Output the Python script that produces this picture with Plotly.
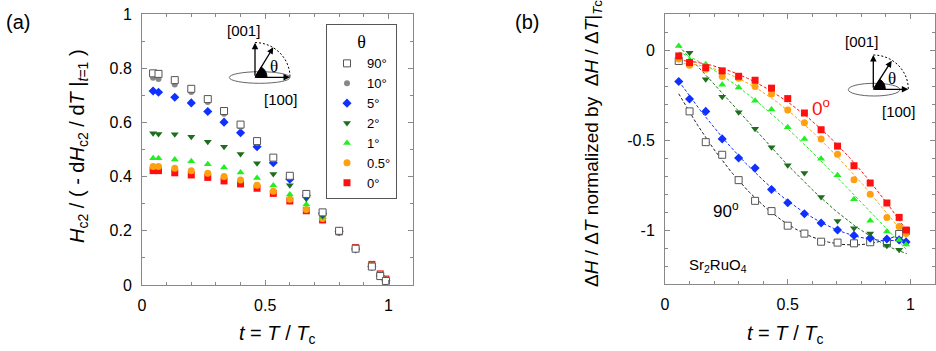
import numpy as np
import plotly.graph_objects as go

W, H = 936, 351

# ---------------- Panel (a) data ----------------
tA = [0.045, 0.067, 0.133, 0.2, 0.267, 0.333, 0.4, 0.467, 0.533, 0.6, 0.667, 0.733, 0.8, 0.867, 0.933, 0.967, 0.99]
a90 = [0.781, 0.779, 0.756, 0.724, 0.686, 0.642, 0.592, 0.531, 0.470, 0.403, 0.336, 0.268, 0.200, 0.134, 0.068, 0.033, 0.015]
a10 = [0.765, 0.760, 0.740, 0.712, 0.675, 0.632, 0.584, 0.525, 0.464, 0.398, 0.332, 0.265, 0.198, 0.133, 0.068, 0.034, 0.016]
a5 = [0.716, 0.711, 0.693, 0.672, 0.640, 0.601, 0.562, 0.510, 0.451, 0.390, 0.330, 0.265, 0.198, 0.133, 0.068, 0.034, 0.016]
a2 = [0.560, 0.557, 0.556, 0.547, 0.529, 0.510, 0.483, 0.449, 0.410, 0.368, 0.318, 0.255, 0.197, 0.134, 0.070, 0.036, 0.017]
a1 = [0.468, 0.468, 0.463, 0.457, 0.446, 0.434, 0.415, 0.395, 0.367, 0.334, 0.297, 0.252, 0.196, 0.135, 0.072, 0.037, 0.018]
a05 = [0.437, 0.437, 0.431, 0.422, 0.412, 0.400, 0.387, 0.368, 0.346, 0.316, 0.279, 0.245, 0.194, 0.136, 0.073, 0.039, 0.020]
a0 = [0.422, 0.422, 0.414, 0.406, 0.397, 0.384, 0.373, 0.357, 0.338, 0.310, 0.274, 0.240, 0.196, 0.138, 0.076, 0.041, 0.022]

# ---------------- Panel (b) data ----------------
tB = [0.056, 0.1, 0.166, 0.233, 0.3, 0.367, 0.434, 0.5, 0.568, 0.636, 0.703, 0.77, 0.836, 0.904, 0.954, 0.982]
tB2 = [0.1, 0.166, 0.233, 0.3, 0.367, 0.434, 0.5, 0.568, 0.636, 0.703, 0.77, 0.836, 0.904, 0.954]
b90 = [-0.061, -0.341, -0.512, -0.582, -0.723, -0.838, -0.895, -0.976, -1.02, -1.065, -1.07, -1.074, -1.068, -1.074, -1.022, -1.006]
b5 = [-0.175, -0.272, -0.341, -0.494, -0.600, -0.656, -0.775, -0.849, -0.910, -0.961, -1.0, -1.03, -1.045, -1.05, -1.055, -1.066]
b2 = [-0.015, -0.162, -0.26, -0.346, -0.438, -0.54, -0.64, -0.683, -0.816, -0.95, -0.99, -1.02, -1.088, -1.11]
b1 = [0.022, -0.057, -0.079, -0.193, -0.208, -0.282, -0.331, -0.429, -0.494, -0.604, -0.696, -0.829, -0.948, -1.009, -1.055, -1.08]
b05 = [-0.05, -0.085, -0.107, -0.147, -0.157, -0.203, -0.245, -0.333, -0.404, -0.494, -0.579, -0.721, -0.802, -0.931, -0.98, -1.02]
b0 = [-0.033, -0.07, -0.098, -0.116, -0.146, -0.168, -0.212, -0.27, -0.35, -0.443, -0.534, -0.643, -0.739, -0.85, -0.93, -1.0]

legend_names = ["0°", "0.5°", "1°", "2°", "5°", "10°", "90°"]

RED = "#ff1010"
ORANGE = "#ffa010"
LGREEN = "#22ee22"
DGREEN = "#1e6e1e"
BLUE = "#1030ff"
GRAY = "#888888"
SQEDGE = "#555555"

FONT = "Liberation Sans, Arial, sans-serif"
SERIF = "Liberation Serif, Times New Roman, serif"

fig = go.Figure()

# panel (a) traces (drawn bottom to top)
styleA = [
    (a0, "square", RED, 7, None),
    (a05, "circle", ORANGE, 7, None),
    (a1, "triangle-up", LGREEN, 7, None),
    (a2, "triangle-down", DGREEN, 7, None),
    (a5, "diamond", BLUE, 7, None),
    (a10, "circle", GRAY, 6, None),
    (a90, "square", "white", 7, SQEDGE),
]
for (vals, sym, col, sz, edge), name in zip(styleA, legend_names):
    mk = dict(symbol=sym, color=col, size=sz)
    if edge:
        mk["line"] = dict(color=edge, width=1)
    else:
        mk["line"] = dict(width=0)
    fig.add_trace(go.Scatter(x=tA, y=vals, mode="markers", marker=mk, name=name,
                             xaxis="x", yaxis="y", showlegend=True))

# panel (b) fit lines + markers
def fit_line(t, y, deg=3, skip=0):
    c = np.polyfit(np.array(t[skip:]), np.array(y[skip:]), deg)
    tt = np.linspace(0.056, 0.985, 120)
    return tt, np.polyval(c, tt)

seriesB = [
    (tB, b90, "square", "white", SQEDGE, "#222222", 1),
    (tB, b5, "diamond", BLUE, None, BLUE, 0),
    (tB2, b2, "triangle-down", DGREEN, None, DGREEN, 0),
    (tB, b1, "triangle-up", LGREEN, None, LGREEN, 0),
    (tB, b05, "circle", ORANGE, None, ORANGE, 0),
    (tB, b0, "square", RED, None, RED, 0),
]
for t, y, sym, col, edge, lcol, skip in seriesB:
    tt, yy = fit_line(t, y, 3, skip)
    fig.add_trace(go.Scatter(x=tt, y=yy, mode="lines", line=dict(color=lcol, width=1, dash="3px,2px"),
                             xaxis="x2", yaxis="y2", showlegend=False, hoverinfo="skip"))
for t, y, sym, col, edge, lcol, skip in seriesB:
    mk = dict(symbol=sym, color=col, size=7)
    mk["line"] = dict(color=edge, width=1) if edge else dict(width=0)
    fig.add_trace(go.Scatter(x=t, y=y, mode="markers", marker=mk, xaxis="x2", yaxis="y2",
                             showlegend=False))

def px(x):
    return x / W

def py(y):
    return 1 - y / H

axis_common = dict(showline=True, linecolor="#888888", linewidth=1, mirror="ticks",
                   ticks="inside", ticklen=5, tickcolor="#888888", tickwidth=1,
                   showgrid=False, zeroline=False, automargin=False,
                   tickfont=dict(family=FONT, size=16, color="black"),
                   ticklabelstandoff=6)

fig.update_layout(
    width=W, height=H, margin=dict(l=0, r=0, t=0, b=0, pad=0, autoexpand=False),
    paper_bgcolor="white", plot_bgcolor="white",
    font=dict(family=FONT, color="black"),
    xaxis=dict(domain=[px(142), px(413)], range=[0, 1.1], anchor="y",
               tickmode="linear", tick0=0, dtick=0.5,
               minor=dict(tickmode="linear", tick0=0, dtick=0.1, ticks="inside", ticklen=3, tickcolor="#888888"),
               **axis_common),
    yaxis=dict(domain=[py(285), py(14)], range=[0, 1], anchor="x",
               tickmode="linear", tick0=0, dtick=0.2,
               minor=dict(tickmode="linear", tick0=0, dtick=0.1, ticks="inside", ticklen=3, tickcolor="#888888"),
               **axis_common),
    xaxis2=dict(domain=[px(665), px(935)], range=[0, 1.1], anchor="y2",
                tickmode="linear", tick0=0, dtick=0.5,
                minor=dict(tickmode="linear", tick0=0, dtick=0.1, ticks="inside", ticklen=3, tickcolor="#888888"),
                **axis_common),
    yaxis2=dict(domain=[py(284), py(14)], range=[-1.3, 0.2], anchor="x2",
                tickmode="array", tickvals=[-1, -0.5, 0], ticktext=["-1", "-0.5", "0"],
                minor=dict(tickmode="linear", tick0=0, dtick=0.1, ticks="inside", ticklen=3, tickcolor="#888888"),
                **axis_common),
    legend=dict(x=px(326), y=py(24), xanchor="left", yanchor="top",
                bgcolor="white", bordercolor="#555555", borderwidth=1,
                traceorder="reversed",
                font=dict(family=FONT, size=13, color="black"),
                title=dict(text="θ", side="top center", font=dict(family=SERIF, size=18))),
)

ann = []
def text(x, y, s, size=15, color="black", family=FONT, angle=0, xanchor="center"):
    ann.append(dict(x=px(x), y=py(y), xref="paper", yref="paper", text=s, showarrow=False,
                    font=dict(family=family, size=size, color=color), textangle=angle,
                    xanchor=xanchor, yanchor="middle"))

text(18, 22, "(a)", 20)
text(527, 22, "(b)", 20)
text(78, 146, "<i>H</i><sub>c2</sub> / ( - d<i>H</i><sub>c2</sub> / d<i>T</i> |<sub><i>t</i>=1</sub> )", 20, angle=-90)
text(277, 334, "<i>t</i> = <i>T</i> / <i>T</i><sub>c</sub>", 20)
text(785, 334, "<i>t</i> = <i>T</i> / <i>T</i><sub>c</sub>", 20)
text(593, 144, "Δ<i>H</i> / Δ<i>T</i> normalized by  Δ<i>H</i> / Δ<i>T</i>|<sub><i>T</i>c</sub>", 19, angle=-90)
text(821, 107, "0<sup>o</sup>", 19, color=RED)
text(726, 210, "90<sup>o</sup>", 17)
text(718, 265, "Sr<sub>2</sub>RuO<sub>4</sub>", 15)

shapes = []

def inset(ox, oy, ell, vhead, hhead, thead, th_pos, l001, l100, rx, ry):
    shapes.append(dict(type="circle", xref="paper", yref="paper",
                       x0=px(ell[0]), x1=px(ell[1]), y0=py(ell[3]), y1=py(ell[2]),
                       line=dict(color="#666666", width=1)))
    k = 0.5523
    p0 = (ox, oy - ry)
    c1 = (ox + k * rx, oy - ry)
    c2 = (ox + rx, oy - k * ry)
    p1 = (ox + rx, oy)
    path = "M {},{} C {},{} {},{} {},{}".format(px(p0[0]), py(p0[1]), px(c1[0]), py(c1[1]),
                                             px(c2[0]), py(c2[1]), px(p1[0]), py(p1[1]))
    shapes.append(dict(type="path", xref="paper", yref="paper", path=path,
                       line=dict(color="black", width=1, dash="2px,2px")))
    ang = np.arctan2(oy - thead[1], thead[0] - ox)
    r = 12
    wx, wy = ox + r * np.cos(ang), oy - r * np.sin(ang)
    path = "M {},{} L {},{} Q {},{} {},{} Z".format(px(ox), py(oy), px(ox + r), py(oy),
                                                 px(ox + r), py(oy - r * 0.55), px(wx), py(wy))
    shapes.append(dict(type="path", xref="paper", yref="paper", path=path,
                       fillcolor="black", line=dict(color="black", width=1)))
    for hx, hy in (vhead, hhead, thead):
        ann.append(dict(x=px(hx), y=py(hy), xref="paper", yref="paper", ax=ox - hx, ay=oy - hy,
                        axref="pixel", ayref="pixel", showarrow=True, arrowhead=2, arrowsize=1,
                        arrowwidth=1.3, arrowcolor="black", text=""))
    text(th_pos[0], th_pos[1], "θ", 17, family=SERIF)
    text(l001[0], l001[1], "[001]", 15)
    text(l100[0], l100[1], "[100]", 15)

inset(255, 77.3, (229.3, 290, 71.7, 83.3), (255, 42.7), (290, 77.3), (273.3, 47.3),
      (273.5, 66), (243.5, 30.5), (280, 100), 35, 34.7)
inset(873.3, 89.3, (848.3, 900, 83.3, 96), (873.3, 55), (908.3, 89.3), (891.7, 60.7),
      (891.7, 78.3), (861.7, 41.7), (898.3, 111.7), 35, 34.3)

fig.update_layout(annotations=ann, shapes=shapes)
fig.write_html("out.html")
